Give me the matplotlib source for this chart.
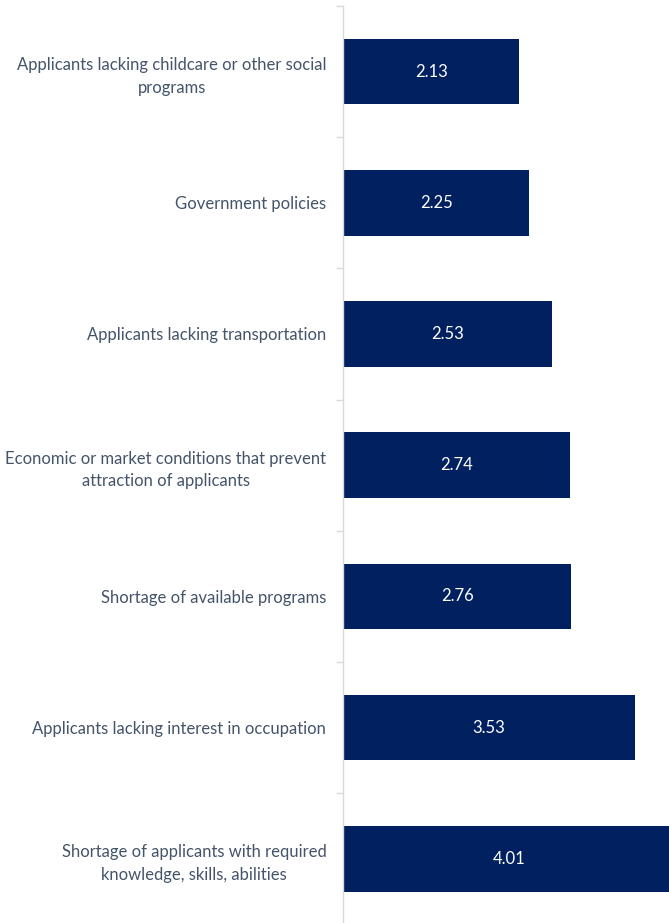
import matplotlib.pyplot as plt
import numpy as np

categories = [
    "Applicants lacking childcare or other social\nprograms",
    "Government policies",
    "Applicants lacking transportation",
    "Economic or market conditions that prevent\nattraction of applicants",
    "Shortage of available programs",
    "Applicants lacking interest in occupation",
    "Shortage of applicants with required\nknowledge, skills, abilities",
]
values = [2.13, 2.25, 2.53, 2.74, 2.76, 3.53, 4.01]

plt.rcParams['font.family'] = ['Lato', 'DejaVu Sans']

fig = plt.figure(figsize=(6.69, 9.23), dpi=100)
ax = fig.add_axes([343 / 669, 0, 1 - 343 / 669, 1 - 6 / 923])

y = np.arange(len(categories))
bars = ax.barh(y, values, height=0.5, color='#002060')

for b, v in zip(bars, values):
    ax.text(v / 2, b.get_y() + b.get_height() / 2, f"{v:.2f}",
            ha='center', va='center', color='white', fontsize=12)

ax.set_xlim(0, 3.94)
ax.set_ylim(6.49, -0.5)

ax.set_yticks(y)
ax.set_yticklabels(categories, fontsize=12, color='#44546A')
ax.tick_params(axis='y', which='major', length=0, pad=12)
ax.set_yticks(np.arange(-0.5, 6.5, 1), minor=True)
ax.tick_params(axis='y', which='minor', length=5, color='#d9d9d9', width=1)
for lbl in ax.get_yticklabels():
    lbl.set_multialignment('center')
    lbl.set_linespacing(1.5)

ax.set_xticks([])
for s in ['top', 'right', 'bottom']:
    ax.spines[s].set_visible(False)
ax.spines['left'].set_color('#d9d9d9')
ax.spines['left'].set_linewidth(1)

fig.savefig("out.png", dpi=100)
